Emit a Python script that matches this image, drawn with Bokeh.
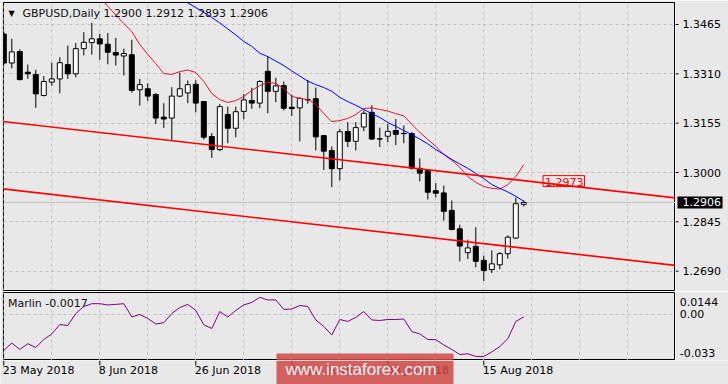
from bokeh.plotting import figure
from bokeh.layouts import column, row
from bokeh.models import Range1d, FixedTicker, Span, Label, BoxAnnotation
from bokeh.core.properties import value
from bokeh.embed import file_html
from bokeh.resources import INLINE

# ---------------- data ----------------
symbol_title = "GBPUSD,Daily  1.2900 1.2912 1.2893 1.2906"
indicator_title = "Marlin -0.0017"
watermark_text = "www.instaforex.com"

date_tick_idx = [0, 12, 24, 36, 48, 60]
date_tick_labels = ["23 May 2018", "8 Jun 2018", "26 Jun 2018",
                    "12 Jul 2018", "30 Jul 2018", "15 Aug 2018"]
grid_idx = [0, 6, 12, 18, 24, 30, 36, 42, 48, 54, 60, 66, 72, 78]
price_ticks = [1.2690, 1.2845, 1.3000, 1.3155, 1.3310, 1.3465]

opens = [1.3435, 1.3344, 1.3380, 1.3315, 1.3308, 1.3242, 1.3284, 1.3294, 1.3339, 1.3310,
         1.3389, 1.3408, 1.3420, 1.3403, 1.3377, 1.3366, 1.3370, 1.3260, 1.3263, 1.3245,
         1.3174, 1.3171, 1.3240, 1.3250, 1.3277, 1.3223, 1.3113, 1.3072, 1.3182, 1.3139,
         1.3192, 1.3226, 1.3218, 1.3318, 1.3255, 1.3273, 1.3205, 1.3203, 1.3229, 1.3232,
         1.3116, 1.3069, 1.3012, 1.3129, 1.3098, 1.3143, 1.3189, 1.3106, 1.3114, 1.3132,
         1.3123, 1.3122, 1.3013, 1.3006, 1.2943, 1.2936, 1.2881, 1.2823, 1.2748, 1.2768,
         1.2724, 1.2695, 1.2710, 1.2745, 1.2794, 1.2900]
highs = [1.3443, 1.3420, 1.3387, 1.3339, 1.3323, 1.3303, 1.3345, 1.3362, 1.3399, 1.3407,
         1.3441, 1.3470, 1.3436, 1.3438, 1.3423, 1.3389, 1.3417, 1.3294, 1.3280, 1.3250,
         1.3218, 1.3268, 1.3314, 1.3289, 1.3290, 1.3224, 1.3124, 1.3215, 1.3207, 1.3207,
         1.3246, 1.3266, 1.3290, 1.3365, 1.3298, 1.3286, 1.3245, 1.3236, 1.3291, 1.3267,
         1.3118, 1.3082, 1.3137, 1.3158, 1.3158, 1.3195, 1.3211, 1.3141, 1.3153, 1.3168,
         1.3148, 1.3127, 1.3044, 1.3008, 1.2967, 1.2959, 1.2912, 1.2836, 1.2789, 1.2828,
         1.2739, 1.2755, 1.2750, 1.2802, 1.2921, 1.2912]
lows = [1.3339, 1.3327, 1.3289, 1.3294, 1.3203, 1.3239, 1.3273, 1.3249, 1.3294, 1.3299,
        1.3368, 1.3370, 1.3354, 1.3340, 1.3336, 1.3305, 1.3251, 1.3210, 1.3225, 1.3152,
        1.3140, 1.3101, 1.3237, 1.3218, 1.3189, 1.3103, 1.3046, 1.3067, 1.3092, 1.3111,
        1.3167, 1.3200, 1.3202, 1.3186, 1.3221, 1.3195, 1.3178, 1.3098, 1.3216, 1.3069,
        1.3008, 1.2954, 1.2975, 1.3080, 1.3069, 1.3130, 1.3103, 1.3080, 1.3095, 1.3086,
        1.3092, 1.3009, 1.2972, 1.2915, 1.2922, 1.2849, 1.2818, 1.2721, 1.2728, 1.2702,
        1.2659, 1.2684, 1.2696, 1.2729, 1.2792, 1.2893]
closes = [1.3344, 1.3379, 1.3292, 1.3310, 1.3247, 1.3286, 1.3294, 1.3345, 1.3310, 1.3389,
          1.3409, 1.3420, 1.3404, 1.3378, 1.3369, 1.3374, 1.3258, 1.3276, 1.3240, 1.3171,
          1.3168, 1.3240, 1.3263, 1.3276, 1.3218, 1.3111, 1.3072, 1.3207, 1.3139, 1.3191,
          1.3228, 1.3218, 1.3286, 1.3255, 1.3272, 1.3202, 1.3201, 1.3233, 1.3228, 1.3112,
          1.3067, 1.3012, 1.3128, 1.3098, 1.3141, 1.3186, 1.3105, 1.3105, 1.3129, 1.3120,
          1.3122, 1.3013, 1.2998, 1.2938, 1.2935, 1.2878, 1.2821, 1.2769, 1.2763, 1.2721,
          1.2692, 1.2713, 1.2745, 1.2797, 1.2902, 1.2906]

nan = float("nan")
ma_fast = [nan] * 12 + [
    1.3550, 1.3522, 1.3495, 1.3468, 1.3443, 1.3402, 1.3371, 1.3342, 1.3311, 1.3308,
    1.3317, 1.3322, 1.3314, 1.3286, 1.3248, 1.3229, 1.3220, 1.3226, 1.3239, 1.3258,
    1.3273, 1.3283, 1.3280, 1.3264, 1.3239, 1.3233, 1.3229, 1.3214, 1.3185, 1.3160,
    1.3163, 1.3170, 1.3182, 1.3201, 1.3203, 1.3198, 1.3193, 1.3185, 1.3178, 1.3151,
    1.3126, 1.3104, 1.3082, 1.3057, 1.3038, 1.3016, 1.2987, 1.2969, 1.2956, 1.2950,
    1.2948, 1.2962, 1.2987, 1.3025]
ma_slow = [nan] * 22 + [
    1.3548, 1.3533, 1.3518, 1.3503, 1.3487, 1.3470, 1.3451, 1.3432, 1.3412, 1.3396,
    1.3375, 1.3364, 1.3350, 1.3336, 1.3319, 1.3303, 1.3287, 1.3276, 1.3267, 1.3255,
    1.3236, 1.3223, 1.3211, 1.3198, 1.3185, 1.3173, 1.3157, 1.3145, 1.3132, 1.3119,
    1.3105, 1.3090, 1.3072, 1.3057, 1.3041, 1.3027, 1.3013, 1.2997, 1.2981, 1.2962,
    1.2950, 1.2939, 1.2925, 1.2910]

marlin = [-0.0257, -0.0204, -0.0250, -0.0209, -0.0236, -0.0179, -0.0139, -0.0072, -0.0079, 0.0007,
          0.0057, 0.0077, 0.0077, 0.0068, 0.0072, 0.0077, -0.0018, 0.0000, -0.0029, -0.0068,
          -0.0059, 0.0007, 0.0050, 0.0072, 0.0029, -0.0074, -0.0100, 0.0021, -0.0018, 0.0029,
          0.0068, 0.0086, 0.0122, 0.0104, 0.0104, 0.0036, 0.0039, 0.0064, 0.0057, -0.0039,
          -0.0086, -0.0147, -0.0036, -0.0050, -0.0021, 0.0021, -0.0039, -0.0043, -0.0036, -0.0036,
          -0.0032, -0.0122, -0.0139, -0.0179, -0.0180, -0.0218, -0.0250, -0.0286, -0.0281, -0.0300,
          -0.0300, -0.0268, -0.0229, -0.0174, -0.0050, -0.0017]

# channel trend lines (bar index, price)
channel_x = [-1, 85]
channel_upper = [1.3163, 1.2917]
channel_lower = [1.2951, 1.2705]
channel_label_x = 67.4
channel_label = 1.2973

last_price = 1.2906
ind_label_pos = [0.0088, 0.0, -0.0272]
ind_tick_labels = ["0.0144", "0.00", "-0.033"]

# ---------------- styling / geometry ----------------
BG = "#e8e8e8"
GRID = "#c2c2c2"
FONT = "DejaVu Sans"
LEFT = 3            # left border of the chart panels
AXIS_W = 53         # width of the price scale strip
MAIN_W = 675        # chart panel figure width (frame 672 px)
MAIN_H = 291        # frame 288 px
IND_H = 69          # frame 68 px
DATE_H = 24
FRAME_W = MAIN_W - LEFT
MAIN_FRAME_H = MAIN_H - 3
IND_FRAME_H = IND_H - 1

XR = (-0.0375, 83.9625)
PX_PER_BAR = FRAME_W / (XR[1] - XR[0])
x_range = Range1d(*XR)
y_main = Range1d(1.26293, 1.35341)
y_ind = Range1d(-0.0329, 0.0157)

idx = list(range(len(opens)))


def make_fig(w, h, xr, yr, **kw):
    f = figure(width=w, height=h, x_range=xr, y_range=yr, output_backend="svg",
               toolbar_location=None, x_axis_location=None, y_axis_location=None,
               background_fill_color=BG, border_fill_color=BG, min_border=0, **kw)
    return f


# ---------------- main panel ----------------
p = make_fig(MAIN_W, MAIN_H, x_range, y_main, min_border_left=LEFT, min_border_top=2,
             min_border_bottom=1, outline_line_color="black")
p.xgrid.ticker = FixedTicker(ticks=grid_idx)
p.ygrid.ticker = FixedTicker(ticks=price_ticks)
p.grid.grid_line_color = GRID
p.grid.grid_line_dash = "3 3"

p.add_layout(Span(location=last_price, dimension="width", line_color="#c0c0c0",
                  line_width=1, level="underlay"))

body_top = [max(o, c) for o, c in zip(opens, closes)]
body_bot = [min(o, c) for o, c in zip(opens, closes)]
fills = ["white" if c >= o else "black" for o, c in zip(opens, closes)]

p.segment(x0=idx, y0=lows, x1=idx, y1=highs, line_color="black", line_width=1)
p.vbar(x=idx, width=0.62, top=body_top, bottom=body_bot, fill_color=fills,
       line_color="black", line_width=1)

p.line(idx, ma_fast, line_color="#dc143c", line_width=1)
p.line(idx, ma_slow, line_color="#0000ff", line_width=1)
p.line(channel_x, channel_upper, line_color="#ff0000", line_width=1.6)
p.line(channel_x, channel_lower, line_color="#ff0000", line_width=1.6)

p.add_layout(Label(x=channel_label_x, y=channel_label, text=f"{channel_label:.4f}",
                   text_font=FONT, text_font_size="11px", text_color="#ff0000",
                   text_align="left", text_baseline="middle",
                   border_line_color="#ff0000", border_line_width=1,
                   padding=(2, 1, 2, 1)))

p.add_layout(Label(x=8.0, y=MAIN_FRAME_H - 11, x_units="screen", y_units="screen",
                   text="\u25bc", text_font=FONT, text_font_size="8px", text_color="black",
                   text_align="center", text_baseline="middle"))
p.add_layout(Label(x=19, y=MAIN_FRAME_H - 11, x_units="screen", y_units="screen",
                   text=symbol_title, text_font=FONT, text_font_size="11px",
                   text_color="#101010", text_align="left", text_baseline="middle"))

# ---------------- price scale strip ----------------
ps = make_fig(AXIS_W, MAIN_H, Range1d(0, AXIS_W), y_main, min_border_top=2,
              min_border_bottom=1, outline_line_color=None)
ps.grid.visible = False
ps.segment(x0=[0] * len(price_ticks), x1=[3] * len(price_ticks), y0=price_ticks,
           y1=price_ticks, line_color="black", line_width=1)
ps.text(x=[7] * len(price_ticks), y=price_ticks, text=[f"{v:.4f}" for v in price_ticks],
        text_font=value(FONT), text_font_size="11px", text_color="black",
        text_align="left", text_baseline="middle")
ps.rect(x=[24.5], y=[last_price], width=45, height=12, height_units="screen",
        fill_color="black", line_color=None)
ps.text(x=[7], y=[last_price], text=[f"{last_price:.4f}"], text_font=value(FONT),
        text_font_size="11px", text_color="white", text_align="left",
        text_baseline="middle")

# ---------------- indicator panel ----------------
q = make_fig(MAIN_W, IND_H, x_range, y_ind, min_border_left=LEFT, min_border_top=1,
             outline_line_color="black")
q.xgrid.ticker = FixedTicker(ticks=grid_idx)
q.ygrid.ticker = FixedTicker(ticks=[0.0])
q.grid.grid_line_color = GRID
q.grid.grid_line_dash = "3 3"
q.line(idx, marlin, line_color="#800080", line_width=1)
q.add_layout(Label(x=4.5, y=IND_FRAME_H - 11, x_units="screen", y_units="screen",
                   text=indicator_title, text_font=FONT, text_font_size="11px",
                   text_color="#101010", text_align="left", text_baseline="middle"))

qs = make_fig(AXIS_W, IND_H, Range1d(0, AXIS_W), y_ind, min_border_top=1,
              outline_line_color=None)
qs.grid.visible = False
qs.text(x=[4.3] * len(ind_label_pos), y=ind_label_pos, text=ind_tick_labels,
        text_font=value(FONT), text_font_size="11px", text_color="black",
        text_align="left", text_baseline="middle")

# ---------------- date strip ----------------
date_xr = Range1d(XR[0] - LEFT / PX_PER_BAR, XR[1] + AXIS_W / PX_PER_BAR)
d = make_fig(MAIN_W + AXIS_W, DATE_H, date_xr, Range1d(0, DATE_H), outline_line_color=None)
d.grid.visible = False
d.segment(x0=date_tick_idx, x1=date_tick_idx, y0=[DATE_H] * len(date_tick_idx),
          y1=[DATE_H - 5] * len(date_tick_idx), line_color="black", line_width=1)
d.text(x=date_tick_idx, y=[DATE_H - 3] * len(date_tick_idx), text=date_tick_labels,
       x_offset=-1, text_font=value(FONT), text_font_size="11px", text_color="black",
       text_align="left", text_baseline="top")

# watermark (spans the bottom of the indicator panel and the date strip)
WM_L, WM_R = 276, 453
q.add_layout(BoxAnnotation(left=WM_L - LEFT, right=WM_R - LEFT, bottom=0, top=7,
                           left_units="screen", right_units="screen",
                           bottom_units="screen", top_units="screen",
                           fill_color="#cf4747", fill_alpha=0.85, line_color=None,
                           level="overlay"))
d.add_layout(BoxAnnotation(left=WM_L, right=WM_R, bottom=0, top=DATE_H,
                           left_units="screen", right_units="screen",
                           bottom_units="screen", top_units="screen",
                           fill_color="#cf4747", fill_alpha=0.85, line_color=None,
                           level="overlay"))
d.add_layout(Label(x=WM_L + 9, y=DATE_H - 9, x_units="screen", y_units="screen",
                   text=watermark_text, text_font="Liberation Sans",
                   text_font_size="17px", text_color="#f6f6f6",
                   text_align="left", text_baseline="middle", level="overlay"))

layout = column(row(p, ps, spacing=0), row(q, qs, spacing=0), d, spacing=0)
open("out.html", "w").write(file_html(layout, INLINE))
